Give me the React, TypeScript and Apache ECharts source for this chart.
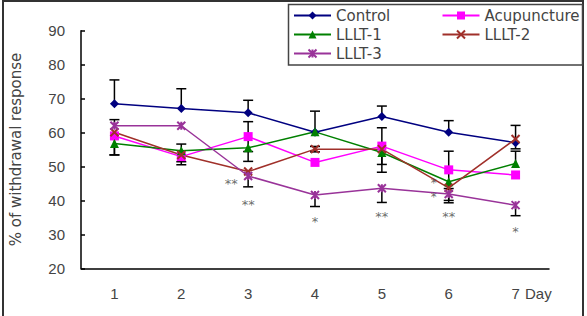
import React, { useEffect, useRef } from "react";
import * as echarts from "echarts";

const days = ["1", "2", "3", "4", "5", "6", "7"];
const seriesNames = ["Control", "Acupuncture", "LLLT-1", "LLLT-2", "LLLT-3"];

const controlValues = [68.5, 67.1, 65.8, 60.1, 64.7, 60.1, 57.0];
const acupunctureValues = [59.0, 52.9, 58.8, 51.2, 56.0, 49.0, 47.5];
const lllt1Values = [56.8, 54.6, 55.5, 60.2, 54.1, 45.5, 50.9];
const lllt2Values = [60.1, 53.4, 48.5, 55.1, 55.1, 43.7, 58.1];
const lllt3Values = [62.0, 62.0, 47.2, 41.6, 43.6, 41.9, 38.6];

// error bar lengths (null = not drawn)
const controlUp = [7.0, 5.8, 3.7, 6.2, 3.1, 3.4, 5.1];
const controlDown = [null, null, null, null, null, null, 1.8];
const acupunctureUp = [null, null, 4.4, null, 5.4, 5.5, null];
const acupunctureDown = [5.6, 1.5, 4.4, null, 5.4, 5.5, null];
const lllt1Up = [null, 2.0, null, null, null, null, 3.6];
const lllt1Down = [3.4, null, 4.0, null, 5.8, null, null];
const lllt2Up = [null, null, null, 0.8, null, null, null];
const lllt2Down = [null, 2.9, null, 0.8, null, 3.7, null];
const lllt3Up = [1.8, null, null, null, null, null, null];
const lllt3Down = [null, null, 3.2, 3.4, 4.2, 2.6, 3.1];

// significance marks: [day index, value, text, x offset, font size]
const marks: [number, number, string, number, number][] = [
  [2, 46.0, "**", -17, 13],
  [2, 39.9, "**", 0, 13],
  [3, 34.7, "*", 0, 13],
  [4, 36.4, "**", 0, 13],
  [5, 36.4, "**", 0, 13],
  [5, 46.3, "*", -15, 12],
  [5, 42.1, "*", -15, 12],
  [6, 31.8, "*", 0, 13],
];

const yTicks = { min: 20, max: 90, interval: 10 };

const colors = ["#000080", "#FF00FF", "#008000", "#A0302A", "#993399"];
const symbols = [
  "diamond",
  "rect",
  "triangle",
  "path://M0,0L10,10M10,0L0,10",
  "path://M0,0L10,10M10,0L0,10M5,0L5,10",
];

export default function App() {
  const ref = useRef<HTMLDivElement>(null);
  useEffect(() => {
    if (!ref.current) return;
    const chart = echarts.init(ref.current, null, { renderer: "svg" });
    const values = [controlValues, acupunctureValues, lllt1Values, lllt2Values, lllt3Values];
    const ups = [controlUp, acupunctureUp, lllt1Up, lllt2Up, lllt3Up];
    const downs = [controlDown, acupunctureDown, lllt1Down, lllt2Down, lllt3Down];
    const errData: number[][] = [];
    values.forEach((vals, i) => {
      vals.forEach((v, j) => {
        const u = ups[i][j];
        const d = downs[i][j];
        if (u != null) errData.push([j, v, v + u, 0, 1]);
        if (d != null) errData.push([j, v - d, v, 1, 0]);
      });
    });
    const lineSeries = seriesNames.map((name, i) => ({
      name,
      type: "line",
      data: values[i],
      symbol: symbols[i],
      symbolSize: i >= 3 ? 8 : 9,
      z: 3,
      lineStyle: { color: colors[i], width: 1.5 },
      itemStyle: {
        color: i >= 3 ? "rgba(0,0,0,0)" : colors[i],
        borderColor: colors[i],
        borderWidth: i >= 3 ? 2 : 0,
      },
    }));
    const option = {
      animation: false,
      backgroundColor: "#ffffff",
      grid: { left: 79, right: 38, top: 30.7, bottom: 47.7 },
      xAxis: {
        type: "category",
        data: days,
        boundaryGap: true,
        axisLine: { lineStyle: { color: "#000", width: 1.5 } },
        axisTick: { inside: true, length: 4, lineStyle: { color: "#000", width: 1.5 } },
        axisLabel: { color: "#444", fontSize: 15, margin: 18, fontFamily: "Liberation Sans" },
      },
      yAxis: {
        type: "value",
        min: yTicks.min,
        max: yTicks.max,
        interval: yTicks.interval,
        name: "% of withdrawal response",
        nameLocation: "middle",
        nameGap: 58,
        nameTextStyle: { color: "#444", fontSize: 15, fontFamily: "DejaVu Sans" },
        splitLine: { show: false },
        axisLine: { show: true, lineStyle: { color: "#000", width: 1.5 } },
        axisTick: { show: true, inside: true, length: 4, lineStyle: { color: "#000", width: 1.5 } },
        axisLabel: { color: "#444", fontSize: 15, margin: 16, fontFamily: "Liberation Sans" },
      },
      legend: [
        {
          data: ["Control", "LLLT-1", "LLLT-3"],
          orient: "vertical",
          left: 293,
          top: 8,
          padding: 0,
          itemWidth: 37,
          itemHeight: 10,
          itemGap: 4,
          textStyle: { color: "#444", fontSize: 15, lineHeight: 15, fontFamily: "DejaVu Sans" },
        },
        {
          data: ["Acupuncture", "LLLT-2"],
          orient: "vertical",
          left: 441.5,
          top: 8,
          padding: 0,
          itemWidth: 37,
          itemHeight: 10,
          itemGap: 4,
          textStyle: { color: "#444", fontSize: 15, lineHeight: 15, fontFamily: "DejaVu Sans" },
        },
      ],
      graphic: [
        {
          type: "rect",
          shape: { x: 3, y: 1, width: 580, height: 330 },
          style: { fill: "none", stroke: "#333", lineWidth: 2 },
          silent: true,
        },
        {
          type: "rect",
          shape: { x: 288.5, y: 4.5, width: 294, height: 60.5 },
          style: { fill: "none", stroke: "#444", lineWidth: 1.5 },
          silent: true,
        },
        {
          type: "text",
          x: 525,
          y: 293,
          style: {
            text: "Day",
            fill: "#444",
            fontSize: 15,
            fontFamily: "Liberation Sans",
            verticalAlign: "middle",
          },
        },
      ],
      series: [
        {
          type: "custom",
          name: "err",
          z: 2,
          data: errData,
          renderItem: (params: any, api: any) => {
            const x = api.value(0);
            const p1 = api.coord([x, api.value(1)]);
            const p2 = api.coord([x, api.value(2)]);
            const style = { stroke: "#000", lineWidth: 1.5 };
            const children: any[] = [
              { type: "line", shape: { x1: p1[0], y1: p1[1], x2: p2[0], y2: p2[1] }, style },
            ];
            if (api.value(3)) {
              children.push({ type: "line", shape: { x1: p1[0] - 5, y1: p1[1], x2: p1[0] + 5, y2: p1[1] }, style });
            }
            if (api.value(4)) {
              children.push({ type: "line", shape: { x1: p2[0] - 5, y1: p2[1], x2: p2[0] + 5, y2: p2[1] }, style });
            }
            return { type: "group", children };
          },
        },
        ...lineSeries,
        {
          type: "scatter",
          name: "marks",
          z: 4,
          symbolSize: 1,
          itemStyle: { color: "rgba(0,0,0,0)" },
          label: {
            show: true,
            position: "top",
            distance: 0,
            color: "#444",
            fontFamily: "DejaVu Sans",
          },
          data: marks.map((m) => ({
            value: [m[0], m[1]],
            label: {
              show: true,
              formatter: m[2],
              position: "top",
              distance: 0,
              offset: [m[3], m[4] * 0.5 + 4],
              color: "#444",
              fontSize: m[4],
              fontFamily: "DejaVu Sans",
            },
          })),
        },
      ],
    };
    chart.setOption(option as any);
    return () => chart.dispose();
  }, []);
  return (
    <div
      ref={ref}
      style={{ position: "fixed", left: 0, top: 0, width: 587, height: 316, background: "#fff" }}
    />
  );
}
